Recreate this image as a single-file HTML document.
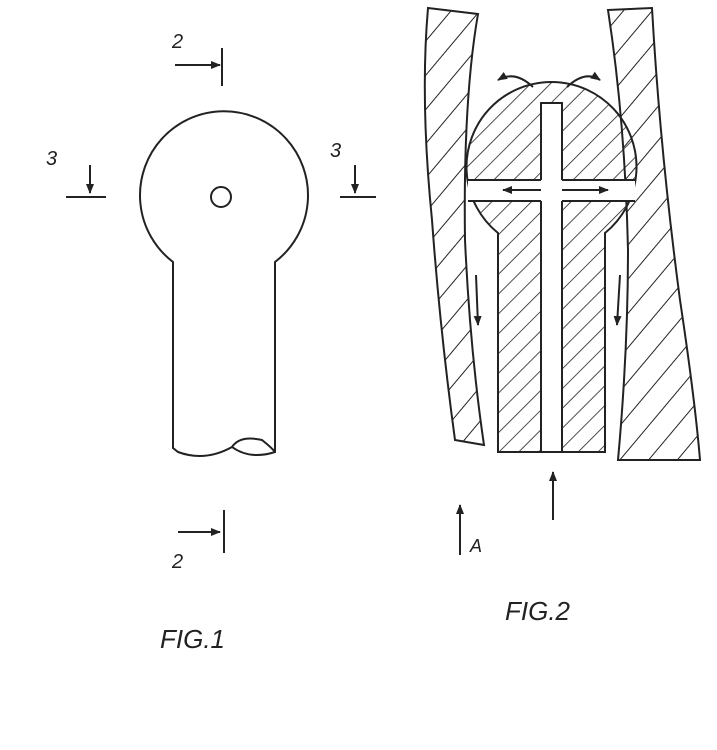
<!DOCTYPE html>
<html><head><meta charset="utf-8"><style>
html,body{margin:0;padding:0;background:#fff;}
svg{display:block;}
text{font-family:"Liberation Sans",sans-serif;font-style:italic;fill:#222;}
</style></head><body>
<svg width="717" height="750" viewBox="0 0 717 750" xmlns="http://www.w3.org/2000/svg">
<defs>
<pattern id="h" width="14" height="14" patternUnits="userSpaceOnUse" patternTransform="rotate(45)">
<line x1="0" y1="0" x2="0" y2="14" stroke="#222" stroke-width="1.6"/></pattern>
<pattern id="w" width="22" height="22" patternUnits="userSpaceOnUse" patternTransform="rotate(40)">
<line x1="0" y1="0" x2="0" y2="22" stroke="#222" stroke-width="2"/></pattern>
<marker id="a" markerWidth="10" markerHeight="10" refX="9" refY="5" orient="auto" markerUnits="userSpaceOnUse">
<path d="M0,1 L10,5 L0,9 Z" fill="#222"/></marker>
</defs>
<g stroke="#222" stroke-width="2" fill="none">
<!-- FIG 1 -->
<path d="M173,262 A84,84 0 1 1 275,262 L275,452 Q250,460 232,447 Q205,462 178,452 L173,448 Z" fill="#fff"/>
<path d="M232,447 Q240,435 262,440 Q272,448 275,452"/>
<circle cx="221" cy="197" r="10"/>
<line x1="175" y1="65" x2="220" y2="65" marker-end="url(#a)"/>
<line x1="222" y1="48" x2="222" y2="86"/>
<line x1="90" y1="165" x2="90" y2="193" marker-end="url(#a)"/>
<line x1="66" y1="197" x2="106" y2="197"/>
<line x1="355" y1="165" x2="355" y2="193" marker-end="url(#a)"/>
<line x1="340" y1="197" x2="376" y2="197"/>
<line x1="178" y1="532" x2="220" y2="532" marker-end="url(#a)"/>
<line x1="224" y1="510" x2="224" y2="553"/>
<!-- FIG 2 walls -->
<path d="M428,8 L478,14 Q463,100 465,240 Q470,350 484,445 L455,440 Q440,330 432,220 Q420,100 428,8 Z" fill="url(#w)"/>
<path d="M608,10 L652,8 Q660,150 680,300 Q695,400 700,460 L618,460 Q628,350 628,250 Q625,120 608,10 Z" fill="url(#w)"/>
<!-- ball and shaft -->
<path d="M498,233 A85,85 0 1 1 605,233 L605,452 L498,452 Z" fill="url(#h)"/>
<rect x="541" y="103" width="21" height="349" fill="#fff"/>
<rect x="468" y="180" width="167" height="21" fill="#fff" stroke="none"/>
<line x1="468" y1="180" x2="541" y2="180"/><line x1="468" y1="201" x2="541" y2="201"/>
<line x1="562" y1="180" x2="635" y2="180"/><line x1="562" y1="201" x2="635" y2="201"/>
<line x1="541" y1="190" x2="503" y2="190" marker-end="url(#a)"/>
<line x1="562" y1="190" x2="608" y2="190" marker-end="url(#a)"/>
<path d="M533,87 Q515,70 498,80" marker-end="url(#a)"/>
<path d="M567,87 Q585,70 600,80" marker-end="url(#a)"/>
<line x1="476" y1="275" x2="478" y2="325" marker-end="url(#a)"/>
<line x1="620" y1="275" x2="617" y2="325" marker-end="url(#a)"/>
<line x1="553" y1="520" x2="553" y2="472" marker-end="url(#a)"/>
<line x1="460" y1="555" x2="460" y2="505" marker-end="url(#a)"/>
</g>
<text x="172" y="48" font-size="20">2</text>
<text x="46" y="165" font-size="20">3</text>
<text x="330" y="157" font-size="20">3</text>
<text x="172" y="568" font-size="20">2</text>
<text x="470" y="552" font-size="18">A</text>
<text x="160" y="648" font-size="26">FIG.1</text>
<text x="505" y="620" font-size="26">FIG.2</text>
</svg>
</body></html>
